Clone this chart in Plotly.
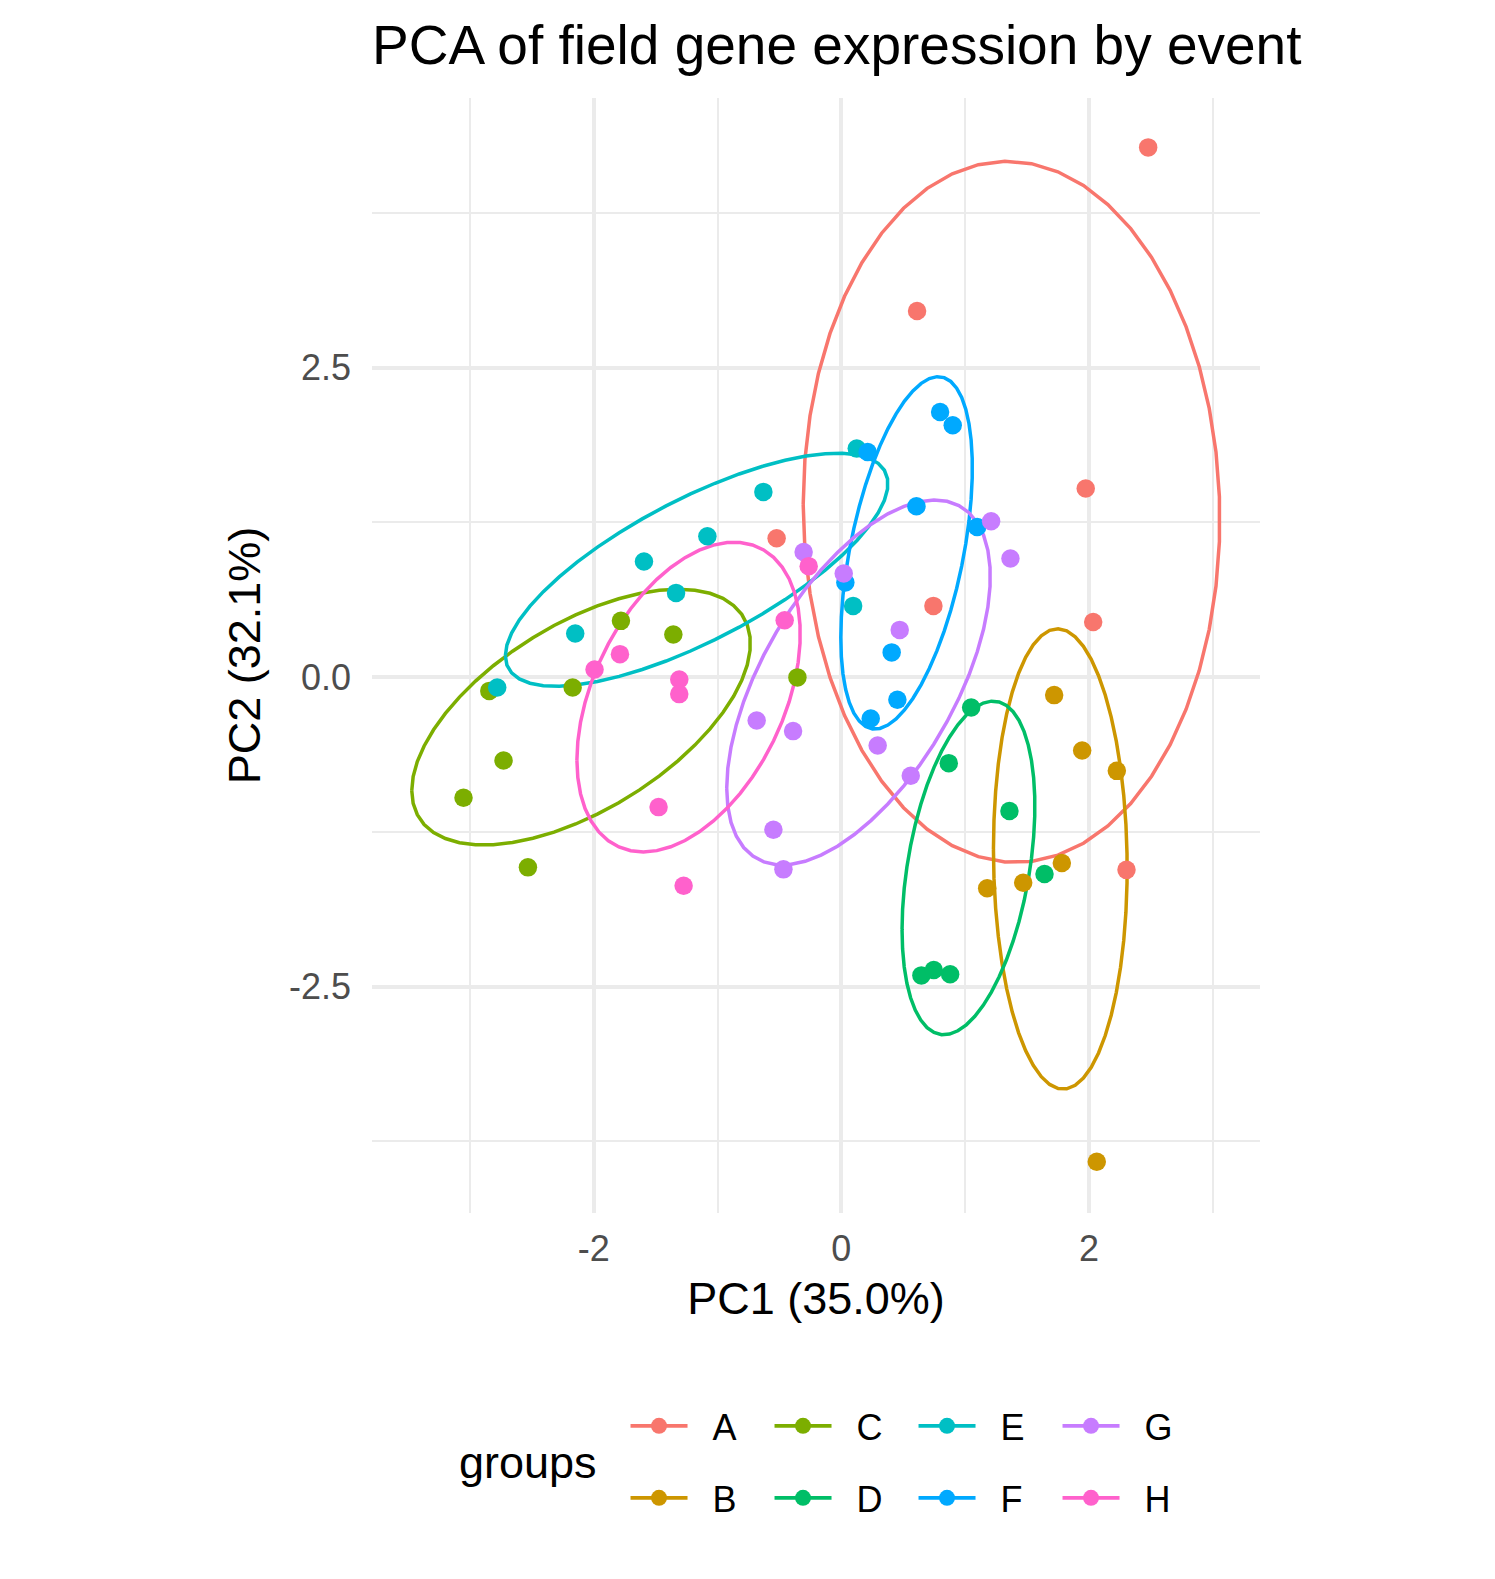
import numpy as np
import plotly.graph_objects as go

# ---------------- data ----------------
groups = ["A", "B", "C", "D", "E", "F", "G", "H"]
colors = ["#F8766D", "#CD9600", "#7CAE00", "#00BE67",
          "#00BFC4", "#00A9FF", "#C77CFF", "#FF61CC"]

pc1_A = [2.477, 0.611, 1.973, -0.523, 0.743, 2.033, 2.302]
pc2_A = [4.281, 2.959, 1.524, 1.123, 0.576, 0.446, -1.557]

pc1_B = [1.718, 1.944, 2.224, 1.780, 1.468, 1.177, 2.062]
pc2_B = [-0.145, -0.593, -0.757, -1.502, -1.662, -1.706, -3.916]

pc1_C = [-1.780, -1.357, -0.355, -2.843, -2.170, -2.728, -3.051, -2.531]
pc2_C = [0.455, 0.345, -0.002, -0.111, -0.083, -0.673, -0.975, -1.537]

pc1_D = [1.048, 0.867, 1.357, 1.640, 0.646, 0.746, 0.878]
pc2_D = [-0.245, -0.695, -1.082, -1.591, -2.410, -2.367, -2.401]

pc1_E = [-0.630, -1.082, -1.594, -1.335, -2.149, -2.779, 0.124, 0.095]
pc2_E = [1.497, 1.139, 0.935, 0.681, 0.353, -0.083, 1.847, 0.576]

pc1_F = [0.797, 0.899, 0.212, 0.606, 1.096, 0.032, 0.406, 0.452, 0.237]
pc2_F = [2.143, 2.036, 1.820, 1.381, 1.214, 0.765, 0.200, -0.183, -0.334]

pc1_G = [1.209, -0.305, 1.365, 0.019, 0.471, -0.684, -0.390, 0.293, 0.560, -0.549, -0.468]
pc2_G = [1.260, 1.012, 0.959, 0.838, 0.382, -0.350, -0.436, -0.552, -0.797, -1.233, -1.553]

pc1_H = [-0.264, -0.458, -1.788, -1.993, -1.309, -1.309, -1.476, -1.274]
pc2_H = [0.897, 0.460, 0.186, 0.062, -0.019, -0.137, -1.050, -1.686]

pc1 = [pc1_A, pc1_B, pc1_C, pc1_D, pc1_E, pc1_F, pc1_G, pc1_H]
pc2 = [pc2_A, pc2_B, pc2_C, pc2_D, pc2_E, pc2_F, pc2_G, pc2_H]

ellipse_prob = 0.68

x_title = "PC1 (35.0%)"
y_title = "PC2 (32.1%)"
title = "PCA of field gene expression by event"
legend_title = "groups"
x_tickvals = [-2, 0, 2]
x_ticktext = ["-2", "0", "2"]
y_tickvals = [-2.5, 0.0, 2.5]
y_ticktext = ["-2.5", "0.0", "2.5"]


# ---------------- group ellipse (as in ggbiplot) ----------------
def group_ellipse(x, y, prob):
    pts = np.column_stack([x, y]).astype(float)
    theta = np.concatenate([np.linspace(-np.pi, np.pi, 50),
                            np.linspace(np.pi, -np.pi, 50)])
    circle = np.column_stack([np.cos(theta), np.sin(theta)])
    sigma = np.cov(pts, rowvar=False)          # var(), n-1
    mu = pts.mean(axis=0)
    ed = np.sqrt(-2.0 * np.log(1.0 - prob))    # sqrt(qchisq(prob, 2))
    upper = np.linalg.cholesky(sigma).T        # R's chol(): upper triangle
    ell = circle @ upper * ed + mu
    return ell[:, 0], ell[:, 1]


FONT = "Liberation Sans, Arial, Helvetica, sans-serif"
NBSP = "\u00a0"
fig = go.Figure()

# ellipses (drawn first, the points sit on top of them)
for g, c, xs, ys in zip(groups, colors, pc1, pc2):
    ex, ey = group_ellipse(xs, ys, ellipse_prob)
    fig.add_trace(go.Scatter(
        x=ex, y=ey, mode="lines", line=dict(color=c, width=3.5),
        legendgroup=g, showlegend=False, hoverinfo="skip"))

# points: gaps between points so no connecting segment is drawn; the line
# style only serves the legend key (line + dot, as in the reference)
row1 = ["A", "C", "E", "G"]
for g, c, xs, ys in zip(groups, colors, pc1, pc2):
    gx, gy = [], []
    for a, b in zip(xs, ys):
        gx += [a, None]
        gy += [b, None]
    fig.add_trace(go.Scatter(
        x=gx, y=gy, mode="lines+markers", name=NBSP * 2 + g, legendgroup=g,
        legend="legend" if g in row1 else "legend2",
        connectgaps=False,
        line=dict(color=c, width=3.8),
        marker=dict(color=c, size=18.5, line=dict(width=0))))

leg_common = dict(orientation="h", xanchor="left", yanchor="middle",
                  itemwidth=57, entrywidth=72, entrywidthmode="pixels",
                  font=dict(family=FONT, size=36, color="black"),
                  bgcolor="rgba(0,0,0,0)", borderwidth=0,
                  itemclick=False, itemdoubleclick=False)

fig.update_layout(
    width=1495, height=1579,
    margin=dict(l=372, r=235, t=98, b=366, autoexpand=False),
    paper_bgcolor="white", plot_bgcolor="white",
    font=dict(family=FONT, color="black"),
    title=dict(text=title, xref="paper", x=0, xanchor="left",
               yref="container", y=1 - 45 / 1579, yanchor="middle",
               font=dict(family=FONT, size=55, color="black")),
    legend=dict(x=0.2855, y=-0.191, **leg_common),
    legend2=dict(x=0.2855, y=-0.2555, **leg_common),
    annotations=[dict(text=legend_title, xref="paper", yref="paper",
                      x=0.1762, y=-0.2242, xanchor="center", yanchor="middle",
                      showarrow=False,
                      font=dict(family=FONT, size=45, color="black"))],
    xaxis=dict(range=[-3.79, 3.38], tickvals=x_tickvals, ticktext=x_ticktext,
               showgrid=True, gridcolor="#EBEBEB", gridwidth=3.6,
               minor=dict(dtick=1, tick0=0, showgrid=True, gridcolor="#EBEBEB", gridwidth=1.9),
               zeroline=False, showline=False, ticks="",
               tickfont=dict(family=FONT, size=36, color="#4D4D4D"),
               ticklabelstandoff=11,
               title=dict(text=x_title, standoff=14,
                          font=dict(family=FONT, size=45, color="black")),
               automargin=False),
    yaxis=dict(range=[-4.33, 4.68], tickvals=y_tickvals, ticktext=y_ticktext,
               showgrid=True, gridcolor="#EBEBEB", gridwidth=3.6,
               minor=dict(dtick=1.25, tick0=0, showgrid=True, gridcolor="#EBEBEB", gridwidth=1.9),
               zeroline=False, showline=False, ticks="",
               tickfont=dict(family=FONT, size=36, color="#4D4D4D"),
               ticklabelstandoff=20,
               title=dict(text=y_title, standoff=14,
                          font=dict(family=FONT, size=45, color="black")),
               automargin=False),
)

fig.write_html("out.html")
